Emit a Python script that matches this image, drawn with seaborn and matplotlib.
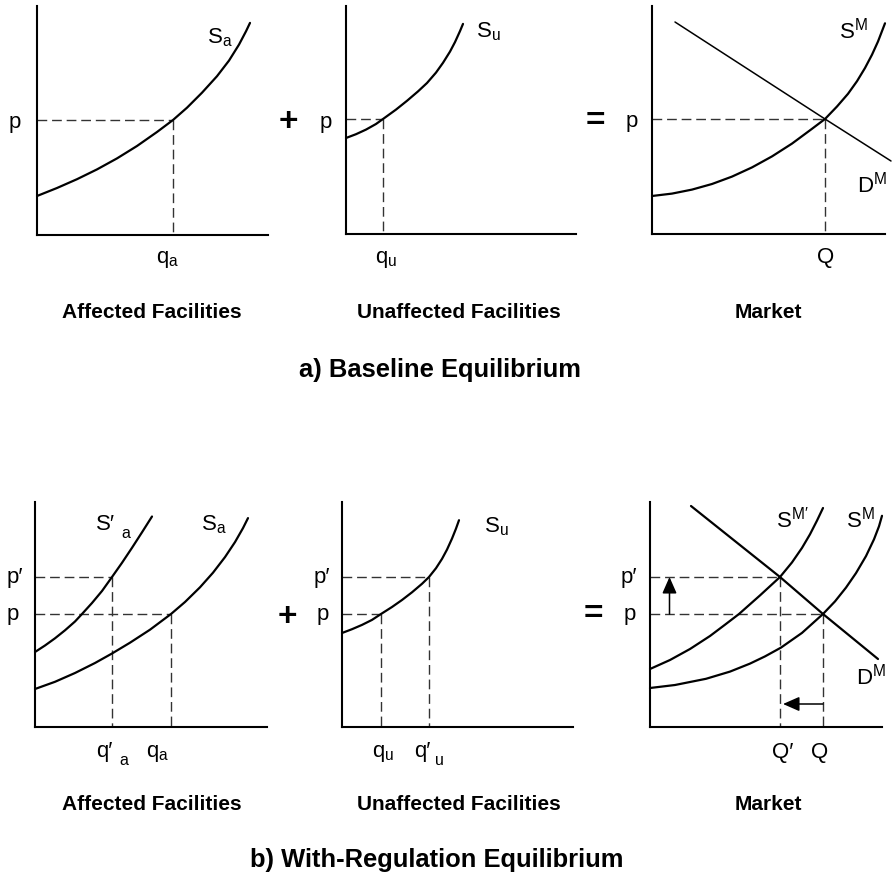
import matplotlib
matplotlib.use("Agg")
import matplotlib.pyplot as plt
import seaborn as sns

# a) baseline equilibrium (units ~ pixels from each origin)
sa_q = [0, 20, 40, 60, 80, 100, 120, 136, 150, 165, 180, 192, 202, 209, 213]
sa_p = [39, 47, 55.8, 65.6, 76.6, 89, 103, 115, 127.3, 142.3, 158.8, 174.4,
        190.4, 203.7, 212.1]
su_q = [0, 10, 20, 30, 37, 50, 61, 72, 81, 90, 97, 104, 109, 114, 117]
su_p = [96, 99.8, 104.4, 110, 115, 124.4, 133.2, 142.6, 151, 161.4, 171.2,
        182.4, 191.9, 202.9, 210.1]
sm_q = [0, 20, 40, 60, 80, 100, 120, 140, 160, 173, 185, 196, 205, 213, 220,
        226, 233]
sm_p = [38, 40.4, 44.4, 50, 57.4, 66.6, 77.6, 90.4, 105.2, 115, 127.5, 140.2,
        152.8, 166, 179.3, 192.5, 210.7]
dm_q = [23, 173, 239]
dm_p = [212, 115, 73]
p0 = 115
qa0, qu0, Q0 = 136, 37, 173

# b) with-regulation equilibrium
sa1_q = [0, 10, 20, 30, 40, 47, 57, 67, 77, 87, 97, 107, 117]       # S'a
sa1_p = [75, 81.5, 88.7, 96.7, 105.5, 113, 124, 136, 150, 164.2, 179.2,
         194.7, 210.5]
sa2_q = [0, 20, 40, 60, 77, 95, 115, 136, 150, 165, 178, 190, 200, 208, 213]
sa2_p = [38, 45.2, 54, 64, 73.5, 84.3, 97.3, 113, 125, 139.7, 154.3, 169.9,
         184.9, 198.9, 208.9]                                       # Sa
su2_q = [0, 10, 20, 30, 39, 50, 60, 70, 80, 87, 94, 100, 105, 110, 114, 117]
su2_p = [94, 97.8, 102.1, 107.1, 113, 120, 127, 134.7, 143.2, 150, 158.8,
         168.1, 177.4, 188.4, 198.4, 206.8]
sm1_q = [0, 20, 40, 60, 75, 89, 110, 130, 142, 152, 160, 167, 173]  # SM'
sm1_p = [58, 67, 78, 91, 102.3, 113, 131.6, 150, 164.6, 179.1, 192.7, 206.4,
         219]
sm2_q = [0, 25, 56, 80, 100, 115, 131, 152, 173, 185, 196, 206, 216, 224,
         229, 232]                                                  # SM
sm2_p = [39, 42, 48.2, 55.4, 63.4, 70.6, 79.4, 94.1, 113, 125.6, 139.4,
         153.9, 170.9, 187.7, 200.7, 211.2]
dm2_q = [41, 130, 173, 228]
dm2_p = [221, 150, 113, 68]
p1, p1s = 113, 150
qa1, qa1s = 136, 77
qu1, qu1s = 39, 87
Q1, Q1s = 173, 130

W, H = 893, 878
sns.set_style("white")
plt.rcParams["font.family"] = ["Liberation Sans", "DejaVu Sans"]
plt.rcParams["text.color"] = "black"
plt.rcParams["mathtext.fontset"] = "custom"
plt.rcParams["mathtext.rm"] = "Liberation Sans"
plt.rcParams["mathtext.it"] = "Liberation Sans:italic"
plt.rcParams["mathtext.bf"] = "Liberation Sans:bold"

fig = plt.figure(figsize=(W / 100, H / 100), dpi=100)


def panel(left, bottom, w, h):
    ax = fig.add_axes([left / W, 1 - bottom / H, w / W, h / H])
    ax.set_xlim(0, w)
    ax.set_ylim(0, h)
    for s in ["top", "right"]:
        ax.spines[s].set_visible(False)
    for s in ["left", "bottom"]:
        ax.spines[s].set_linewidth(1.5)
        ax.spines[s].set_color("black")
    ax.set_xticks([])
    ax.set_yticks([])
    ax.set_facecolor("none")
    return ax


def curve(ax, q, p, lw=1.6):
    sns.lineplot(x=q, y=p, ax=ax, color="black", lw=lw, estimator=None,
                 sort=False, clip_on=False, solid_joinstyle="round")


def guide(ax, q, p):
    ax.plot([0, q], [p, p], color="#333333", lw=1.0, ls=(0, (7, 3.5)))
    ax.plot([q, q], [p, 0], color="#333333", lw=1.0, ls=(0, (7, 3.5)))


def lab(x, y, s, size=16, ha="left", weight="normal"):
    fig.text(x / W, 1 - y / H, s, ha=ha, va="baseline", fontsize=size,
             fontweight=weight)


# ---- top row
ax = panel(37, 236, 231, 229)
guide(ax, qa0, p0)
curve(ax, sa_q, sa_p)

ax = panel(346, 235, 230, 228)
guide(ax, qu0, p0)
curve(ax, su_q, su_p)

ax = panel(652, 235, 233, 228)
guide(ax, Q0, p0)
curve(ax, dm_q, dm_p, lw=1.1)
curve(ax, sm_q, sm_p)

lab(15, 128, "p", ha="center")
lab(326, 128, "p", ha="center")
lab(632, 127, "p", ha="center")
lab(288, 131, "+", size=24, ha="center", weight="bold")
lab(595, 130, "=", size=24, ha="center", weight="bold")
lab(207, 43, r"$\mathrm{S}_\mathrm{a}$")
lab(156, 263, r"$\mathrm{q}_\mathrm{a}$")
lab(476, 37, r"$\mathrm{S}_\mathrm{u}$")
lab(375, 263, r"$\mathrm{q}_\mathrm{u}$")
lab(839, 38, r"$\mathrm{S}^\mathrm{M}$")
lab(857, 193, r"$\mathrm{D}^\mathrm{M}$")
lab(826, 263, "Q", ha="center")
lab(152, 318, "Affected Facilities", size=15, ha="center", weight="bold")
lab(459, 318, "Unaffected Facilities", size=15, ha="center", weight="bold")
lab(768, 318, "Market", size=15, ha="center", weight="bold")
lab(440, 377, "a) Baseline Equilibrium", size=18.4, ha="center", weight="bold")

# ---- bottom row
ax = panel(35, 728, 232, 225)
guide(ax, qa1s, p1s)
guide(ax, qa1, p1)
curve(ax, sa1_q, sa1_p)
curve(ax, sa2_q, sa2_p)

ax = panel(342, 728, 231, 225)
guide(ax, qu1s, p1s)
guide(ax, qu1, p1)
curve(ax, su2_q, su2_p)

ax = panel(650, 728, 232, 225)
guide(ax, Q1s, p1s)
guide(ax, Q1, p1)
curve(ax, dm2_q, dm2_p)
curve(ax, sm1_q, sm1_p)
curve(ax, sm2_q, sm2_p)
arrow = dict(arrowstyle="-|>,head_length=0.5,head_width=0.22", color="black",
             lw=1.1, shrinkA=0, shrinkB=0, mutation_scale=20)
ax.annotate("", xy=(19.5, p1s), xytext=(19.5, p1), arrowprops=arrow)
ax.annotate("", xy=(Q1s + 3, 23), xytext=(Q1, 23), arrowprops=arrow)

lab(7, 583, "p\u2032")
lab(7, 620, "p")
lab(314, 583, "p\u2032")
lab(317, 620, "p")
lab(621, 583, "p\u2032")
lab(624, 620, "p")
lab(287, 626, "+", size=24, ha="center", weight="bold")
lab(593, 623, "=", size=24, ha="center", weight="bold")
lab(96, 530, "S\u2032")
lab(121, 538, "a", size=11.5)
lab(201, 530, r"$\mathrm{S}_\mathrm{a}$")
lab(96, 757, "q\u2032")
lab(119, 765, "a", size=11.5)
lab(146, 757, r"$\mathrm{q}_\mathrm{a}$")
lab(484, 532, r"$\mathrm{S}_\mathrm{u}$")
lab(372, 757, r"$\mathrm{q}_\mathrm{u}$")
lab(414, 757, "q\u2032")
lab(435, 765, "u", size=11.5)
lab(776, 528, r"$\mathrm{S}^{\mathrm{M}\prime}$")
lab(846, 528, r"$\mathrm{S}^\mathrm{M}$")
lab(856, 685, r"$\mathrm{D}^\mathrm{M}$")
lab(772, 758, "Q\u2032")
lab(811, 758, "Q")
lab(152, 810, "Affected Facilities", size=15, ha="center", weight="bold")
lab(459, 810, "Unaffected Facilities", size=15, ha="center", weight="bold")
lab(768, 810, "Market", size=15, ha="center", weight="bold")
lab(437, 867, "b) With-Regulation Equilibrium", size=18.4, ha="center",
    weight="bold")

fig.savefig("out.png", dpi=100, facecolor="white")
